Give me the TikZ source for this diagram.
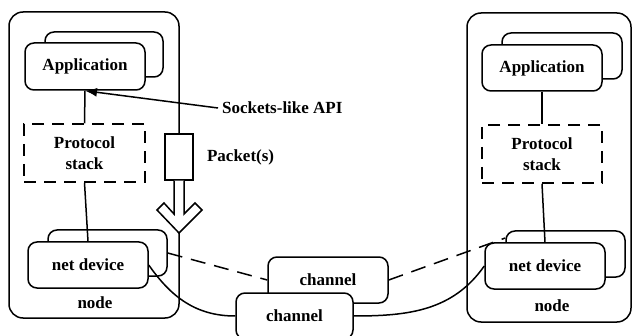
\documentclass[tikz,border=0pt]{standalone}
\usepackage{fontspec}
\setmainfont{Liberation Serif}
\usepackage{xcolor}
\usetikzlibrary{arrows.meta}

\begin{document}
\begin{tikzpicture}[x=1pt, y=1pt, line width=1.5pt,
            every node/.style={font=\bfseries\fontsize{17}{21}\selectfont},
            host/.style={draw, rounded corners=14pt, inner sep=0pt},
            box/.style={draw, fill=white, rounded corners=9pt, inner sep=0pt,
                minimum width=120pt, minimum height=46pt},
            stackbox/.style={draw, dash pattern=on 12pt off 8pt, inner sep=0pt, align=center,
                minimum width=121pt, minimum height=58pt}]
            \useasboundingbox (0,0) rectangle (632,335);
            \node[host, minimum width=170pt, minimum height=306pt] (nodeL) at (94,170) {};
            \node[host, minimum width=164pt, minimum height=309pt] (nodeR) at (549,167.5) {};
            \node at (95,32) (nodeLlabel) {node};
            \node at (552,29) (nodeRlabel) {node};
            \node[box, minimum width=118pt, minimum height=45pt] (appLb) at (104,280.5) {};
            \node[box, minimum height=47pt] (appL) at (85,268.5) {Application};
            \node[stackbox] (stackL) at (84.5,182) {Protocol\\stack};
            \node[box, minimum width=119pt] (devLb) at (107.5,82) {};
            \node[box] (devL) at (88,70) {net device};
            \node[box] (appRb) at (562,279) {};
            \node[box] (appR) at (542,267) {Application};
            \node[stackbox, minimum width=120pt] (stackR) at (542,181) {Protocol\\stack};
            \node[box, minimum width=119pt] (devRb) at (565.5,81) {};
            \node[box] (devR) at (545,69) {net device};
            \node[box] (chanb) at (328,55) {channel};
            \node[box, minimum width=117pt] (chan) at (294.5,19) {channel};
            \node[draw, fill=white, minimum width=28pt, minimum height=46pt, inner sep=0pt] (packet) at (179,178) {};
            \node[anchor=west] (packetlabel) at (203,178) {Packet(s)};
            \node[anchor=west] (api) at (218,227) {Sockets-like API};
            \draw[fill=white] (packet.south -| 174,0) -- (174,121) -- (164,132) -- (157,125) -- (179,102)
                -- (202,125) -- (195,132) -- (184,121) -- (packet.south -| 184,0);
            \draw[-{Latex[length=12pt, width=9pt]}] (api.west) -- (appL.south);
            \draw (appL.south) -- (stackL.north);
            \draw (stackL.south) -- (devL.north);
            \draw (appR.south) -- (stackR.north);
            \draw (stackR.south) -- (devR.north);
            \draw[dash pattern=on 15pt off 9pt] (devLb.east) -- (chanb.west);
            \draw[dash pattern=on 15pt off 9pt] (chanb.east) -- ([yshift=16pt]devRb.west);
            \draw (devL.east) to[out=-55, in=180] (chan.west);
            \draw (chan.east) to[out=0, in=235] (devR.west);
        \end{tikzpicture}
\end{document}
